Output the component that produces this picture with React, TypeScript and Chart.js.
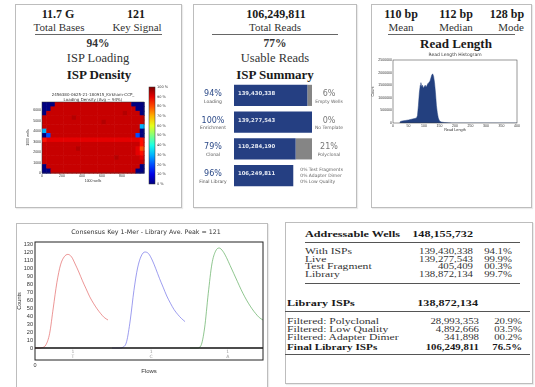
import React, { useEffect, useRef } from "react";
import { Chart, registerables } from "chart.js";
Chart.register(...registerables);

const SERIF = '"Liberation Serif", "Times New Roman", serif';
const SANS = '"DejaVu Sans", sans-serif';

// ---------- Heatmap (ISP density) ----------
const heatTitle = ["2456380-0625-21-180915_Kirkham-CCP_", "Loading Density (Avg ~ 94%)"];
const heatXMax = 1020;
const heatYMax = 6800;
const heatXTicks = [0, 200, 400, 600, 800];
const heatYTicks = [0, 1000, 2000, 3000, 4000, 5000, 6000];
const heatXTitle = "1000 wells";
const heatYTitle = "1000 wells";
const densityLevels: Record<string, number> = {
  "0": 0, "2": 20, "3": 30, "5": 50, "8": 80, "9": 86, q: 90, r: 93, R: 95,
};
const densityRows = [
  "000rrrrrrrrrrrrrrrrrr000",
  "00rrrrrrrrrrrrrrrrrrrr00",
  "0rrrrrrrrrrrrrrrrrrRrrr0",
  "rrrrrrrRrrrrrrrrrrrrrrrr",
  "rrrrrrrrrrrrrrRrrrrrrrrr",
  "rrrrrrrrrrrrrrrrrrrrrrr3",
  "3rrrrrrrrrrrrrrrrrrrrrr0",
  "02rrrrrrrrrrrrrrrrrrrr20",
  "9qqqqqqqqqqqqqqqqqqqqqq9",
  "rrrrrrrrrrrrrrrrrrrrrrr9",
  "rrrrrrrrRrrrrrrrrrrrrrq8",
  "rrrrrrrrrrrrrrrrrrrrrrq9",
  "rrrrrrrrrrrrrrrrrRrrrrrq",
  "rrrrrrrrrrrrrrrrrrrrrrrr",
  "0rrrrrrrrrrrrrrrrrrrrrr0",
  "00rrrrrrrrrrrrrrrrrrrr00",
];
const colorbarLabels = ["100 %", "90 %", "80 %", "70 %", "60 %", "50 %", "40 %", "30 %", "20 %", "10 %", "0 %"];

// ---------- ISP summary ----------
const ispCategories = ["Loading", "Enrichment", "Clonal", "Final Library"];
const ispPercents = ["94%", "100%", "79%", "96%"];
const ispCounts = ["139,430,338", "139,277,543", "110,284,190", "106,249,811"];
const ispBlue = [94, 100, 79, 76];
const ispGray = [6, 0, 21, 0];
const ispRightPct = ["6%", "0%", "21%", ""];
const ispRightCaption = ["Empty Wells", "No Template", "Polyclonal", ""];
const ispFinalNotes = ["0% Test Fragments", "0% Adapter Dimer", "0% Low Quality"];

// ---------- Read length histogram ----------
const readLengthBp = [22, 24, 30, 40, 50, 60, 70, 76, 79, 82, 85, 88, 90, 92, 95, 98, 101, 104, 107, 110, 113, 116, 119, 122, 125, 128, 131, 134, 137, 140, 143, 146, 150, 155, 165, 178, 190, 400];
const readLengthCount = [0, 60000, 80000, 100000, 120000, 150000, 180000, 200000, 300000, 700000, 1200000, 1500000, 1600000, 1450000, 1500000, 1380000, 1450000, 1500000, 1420000, 1500000, 1580000, 1620000, 1650000, 1780000, 1900000, 1950000, 1850000, 1600000, 1200000, 700000, 400000, 200000, 80000, 40000, 20000, 8000, 0, 0];
const histXTicks = [0, 50, 100, 150, 200, 250, 300, 350, 400];
const histYTicks = [0, 500000, 1000000, 1500000, 2000000, 2500000];

// ---------- Consensus key 1-mer ----------
const keyTitle = "Consensus Key 1-Mer - Library Ave. Peak = 121";
const keyRedCounts = [0, 0, 0.5, 4, 18, 50, 82, 104, 114, 117, 114, 105, 95, 84, 74, 64, 56, 49, 43, 38, 35];
const keyBlueCounts = [0, 0, 0, 1, 8, 35, 72, 100, 115, 120, 118, 110, 99, 87, 76, 65, 56, 48, 42, 37, 33];
const keyGreenCounts = [0, 0, 0, 3, 25, 68, 105, 121, 125, 121, 113, 103, 93, 83, 73, 64, 56, 49, 43, 38, 35];
const keyFlowStarts = [0, 1.055, 2.123];
const keyFlowLabelPos = [0.52, 1.59, 2.64];
const keyFlowLabels = [["1", "T"], ["1", "C"], ["1", "A"]];
const keyYTicks = [0, 10, 20, 30, 40, 50, 60, 70, 80, 90, 100, 110, 120, 130];

// ---------- Table ----------
const wellRows = [
  ["With ISPs", "139,430,338", "94.1%"],
  ["Live", "139,277,543", "99.9%"],
  ["Test Fragment", "405,409", "00.3%"],
  ["Library", "138,872,134", "99.7%"],
];
const filterRows = [
  ["Filtered: Polyclonal", "28,993,353", "20.9%"],
  ["Filtered: Low Quality", "4,892,666", "03.5%"],
  ["Filtered: Adapter Dimer", "341,898", "00.2%"],
  ["Final Library ISPs", "106,249,811", "76.5%"],
];

// ---------- helpers ----------
function clamp01(v: number) { return Math.max(0, Math.min(1, v)); }
function jet(v: number) {
  const r = clamp01(Math.min(4 * v - 1.5, -4 * v + 4.5));
  const g = clamp01(Math.min(4 * v - 0.5, -4 * v + 3.5));
  const b = clamp01(Math.min(4 * v + 0.5, -4 * v + 2.5));
  return `rgb(${Math.round(r * 255)},${Math.round(g * 255)},${Math.round(b * 255)})`;
}

function T(props: any) {
  const { x, y, children, size = 11, bold = false, align = "center", color = "#1a1a1a", font = SERIF, ls = 0, sx = 1 } = props;
  const tx = align === "center" ? "-50%" : align === "right" ? "-100%" : "0";
  const origin = align === "center" ? "center center" : align === "right" ? "right center" : "left center";
  return (
    <div style={{ position: "absolute", left: x, top: y, transform: `translate(${tx},-50%) scaleX(${sx})`, transformOrigin: origin, fontSize: size, fontWeight: bold ? 700 : 400, lineHeight: 1, whiteSpace: "nowrap", fontFamily: font, color, letterSpacing: ls }}>
      {children}
    </div>
  );
}
function Rule({ x1, x2, y, h = 1, c = "#555" }: any) {
  return <div style={{ position: "absolute", left: x1, top: y, width: x2 - x1, height: h, background: c }} />;
}
function Box({ x1, y1, x2, y2 }: any) {
  return <div style={{ position: "absolute", left: x1, top: y1, width: x2 - x1, height: y2 - y1, border: "1px solid #bdbdbd", boxSizing: "border-box", boxShadow: "1px 1px 1px rgba(0,0,0,0.08)" }} />;
}

function ChartCanvas({ left, top, width, height, build }: any) {
  const ref = useRef<HTMLCanvasElement>(null);
  useEffect(() => {
    const chart = new Chart(ref.current as HTMLCanvasElement, build());
    return () => chart.destroy();
  }, []);
  return <canvas ref={ref} width={width} height={height} style={{ position: "absolute", left, top, width, height, display: "block" }} />;
}

const baseOpts = {
  responsive: false,
  animation: false,
  events: [],
  plugins: { legend: { display: false }, tooltip: { enabled: false }, title: { display: false } },
};

function borderRect(ctx: any, a: any, color = "#222", w = 0.6) {
  ctx.save();
  ctx.strokeStyle = color;
  ctx.lineWidth = w;
  ctx.strokeRect(a.left, a.top, a.right - a.left, a.bottom - a.top);
  ctx.restore();
}

// ---------- chart builders ----------
function buildHeat() {
  const plugin = {
    id: "heat",
    beforeDatasetsDraw(chart: any) {
      const { ctx } = chart;
      const x = chart.scales.x, y = chart.scales.y;
      const rows = densityRows.length, cols = densityRows[0].length;
      const cw = heatXMax / cols, ch = heatYMax / rows;
      densityRows.forEach((row, r) => {
        for (let c = 0; c < cols; c++) {
          const v = densityLevels[row[c]];
          const x0 = x.getPixelForValue(c * cw), x1 = x.getPixelForValue((c + 1) * cw);
          const y0 = y.getPixelForValue(heatYMax - r * ch), y1 = y.getPixelForValue(heatYMax - (r + 1) * ch);
          ctx.fillStyle = jet(v / 100);
          ctx.fillRect(x0, y0, x1 - x0 + 0.6, y1 - y0 + 0.6);
        }
      });
    },
    afterDraw(chart: any) {
      const { ctx, chartArea: a } = chart;
      borderRect(ctx, a, "#333", 0.5);
      const cx0 = 131, cx1 = 137, cy0 = 3, cy1 = 100;
      const g = ctx.createLinearGradient(0, cy1, 0, cy0);
      for (let i = 0; i <= 10; i++) g.addColorStop(i / 10, jet(i / 10));
      ctx.fillStyle = g;
      ctx.fillRect(cx0, cy0, cx1 - cx0, cy1 - cy0);
      ctx.strokeStyle = "#333";
      ctx.lineWidth = 0.5;
      ctx.strokeRect(cx0, cy0, cx1 - cx0, cy1 - cy0);
      ctx.fillStyle = "#333";
      ctx.font = `3.5px ${SANS}`;
      ctx.textAlign = "left";
      ctx.textBaseline = "middle";
      colorbarLabels.forEach((l, i) => {
        ctx.fillText(l, cx1 + 2, cy0 + (i * (cy1 - cy0)) / (colorbarLabels.length - 1));
      });
      ctx.textAlign = "center";
      ctx.font = `4px ${SANS}`;
      const mid = (a.left + a.right) / 2;
      ctx.fillText(heatTitle[0], mid, 11);
      ctx.fillText(heatTitle[1], mid, 15.5);
    },
  };
  return {
    type: "scatter",
    data: { datasets: [{ data: [] }] },
    options: {
      ...baseOpts,
      layout: { padding: { top: 18, right: 34, left: 0, bottom: 0 } },
      scales: {
        x: {
          type: "linear", min: 0, max: heatXMax,
          afterBuildTicks: (s: any) => { s.ticks = heatXTicks.map((v) => ({ value: v })); },
          afterFit: (s: any) => { s.height = 21; },
          grid: { display: false, drawTicks: false }, border: { display: false },
          ticks: { font: { size: 3.5 }, color: "#333", padding: 1, maxRotation: 0, autoSkip: false, callback: (v: any) => String(v) },
          title: { display: true, text: heatXTitle, font: { size: 3.5 }, color: "#333", padding: { top: 0, bottom: 11 } },
        },
        y: {
          type: "linear", min: 0, max: heatYMax,
          afterBuildTicks: (s: any) => { s.ticks = heatYTicks.map((v) => ({ value: v })); },
          afterFit: (s: any) => { s.width = 24; },
          grid: { display: false, drawTicks: false }, border: { display: false },
          ticks: { font: { size: 3.5 }, color: "#333", padding: 1, autoSkip: false, callback: (v: any) => String(v) },
          title: { display: true, text: heatYTitle, font: { size: 3.5 }, color: "#333", padding: { top: 8, bottom: 0 } },
        },
      },
    },
    plugins: [plugin],
  };
}

function buildIsp() {
  const plugin = {
    id: "isp",
    afterDatasetsDraw(chart: any) {
      const { ctx, chartArea: a } = chart;
      const meta0 = chart.getDatasetMeta(0);
      meta0.data.forEach((bar: any, i: number) => {
        const yc = bar.y;
        ctx.save();
        ctx.textBaseline = "middle";
        ctx.fillStyle = "#e8ecf5";
        ctx.font = `bold 5.3px ${SANS}`;
        ctx.textAlign = "left";
        ctx.fillText(ispCounts[i], bar.base + 4, yc - 2);
        ctx.textAlign = "center";
        ctx.fillStyle = "#2c4a88";
        ctx.font = `8px ${SANS}`;
        ctx.fillText(ispPercents[i], a.left - 21, yc - 1.5);
        ctx.fillStyle = "#555";
        ctx.font = `4.5px ${SANS}`;
        ctx.fillText(ispCategories[i], a.left - 21, yc + 6);
        if (ispRightPct[i]) {
          ctx.fillStyle = "#777";
          ctx.font = `8px ${SANS}`;
          ctx.fillText(ispRightPct[i], a.right + 17, yc - 1.5);
          ctx.fillStyle = "#666";
          ctx.font = `4.5px ${SANS}`;
          ctx.fillText(ispRightCaption[i], a.right + 17, yc + 6);
        } else {
          ctx.textAlign = "left";
          ctx.fillStyle = "#666";
          ctx.font = `4.5px ${SANS}`;
          ispFinalNotes.forEach((n, k) => ctx.fillText(n, bar.x + 7, yc - 6 + k * 6));
        }
        ctx.restore();
      });
    },
  };
  return {
    type: "bar",
    data: {
      labels: ispCategories,
      datasets: [
        { data: ispBlue, backgroundColor: "#253f82", barPercentage: 0.79, categoryPercentage: 1 },
        { data: ispGray, backgroundColor: "#858585", barPercentage: 0.79, categoryPercentage: 1 },
      ],
    },
    options: {
      ...baseOpts,
      indexAxis: "y",
      layout: { padding: { top: 0, right: 45, left: 41, bottom: 1 } },
      scales: {
        x: { display: false, stacked: true, min: 0, max: 100 },
        y: { display: false, stacked: true },
      },
    },
    plugins: [plugin],
  };
}

function buildHist() {
  const plugin = {
    id: "hist",
    afterDraw(chart: any) {
      const { ctx, chartArea: a } = chart;
      borderRect(ctx, a, "#333", 0.5);
      ctx.save();
      ctx.fillStyle = "#333";
      ctx.font = `4.5px ${SANS}`;
      ctx.textAlign = "center";
      ctx.textBaseline = "middle";
      ctx.fillText("Read Length Histogram", (a.left + a.right) / 2, 7);
      ctx.restore();
    },
  };
  return {
    type: "line",
    data: {
      datasets: [{
        data: readLengthBp.map((x, i) => ({ x, y: readLengthCount[i] })),
        borderColor: "#23407f", backgroundColor: "#23407f", fill: "origin",
        borderWidth: 0.5, pointRadius: 0, tension: 0,
      }],
    },
    options: {
      ...baseOpts,
      layout: { padding: { top: 12, right: 15, left: 0, bottom: 0 } },
      scales: {
        x: {
          type: "linear", min: 0, max: 400,
          afterBuildTicks: (s: any) => { s.ticks = histXTicks.map((v) => ({ value: v })); },
          afterFit: (s: any) => { s.height = 15; },
          grid: { display: false, drawTicks: false }, border: { display: false },
          ticks: { font: { size: 3.5 }, color: "#333", padding: 1, maxRotation: 0, autoSkip: false },
          title: { display: true, text: "Read Length", font: { size: 3.8 }, color: "#333", padding: { top: 0, bottom: 6 } },
        },
        y: {
          type: "linear", min: 0, max: 2500000,
          afterBuildTicks: (s: any) => { s.ticks = histYTicks.map((v) => ({ value: v })); },
          afterFit: (s: any) => { s.width = 22; },
          grid: { display: false, drawTicks: false }, border: { display: false },
          ticks: { font: { size: 3.5 }, color: "#333", padding: 1, autoSkip: false, callback: (v: any) => String(v) },
          title: { display: true, text: "Count", font: { size: 3.8 }, color: "#333", padding: { top: 0, bottom: 0 } },
        },
      },
    },
    plugins: [plugin],
  };
}

function buildKey() {
  const series = [keyRedCounts, keyBlueCounts, keyGreenCounts];
  const colors = ["rgba(225,90,90,0.8)", "rgba(100,100,230,0.8)", "rgba(80,165,80,0.8)"];
  const plugin = {
    id: "key",
    afterDraw(chart: any) {
      const { ctx, chartArea: a } = chart;
      const xs = chart.scales.x, ys = chart.scales.y;
      ctx.save();
      ctx.strokeStyle = "#111";
      ctx.lineWidth = 1.4;
      const y0 = ys.getPixelForValue(0);
      ctx.beginPath(); ctx.moveTo(a.left, y0); ctx.lineTo(a.right, y0); ctx.stroke();
      ctx.restore();
      borderRect(ctx, a, "#222", 1);
      ctx.save();
      ctx.fillStyle = "#9a9a9a";
      ctx.font = `4.5px ${SANS}`;
      ctx.textAlign = "center";
      ctx.textBaseline = "middle";
      keyFlowLabelPos.forEach((p, i) => {
        const px = xs.getPixelForValue(p);
        ctx.fillText(keyFlowLabels[i][0], px, ys.getPixelForValue(-5));
        ctx.fillText(keyFlowLabels[i][1], px, ys.getPixelForValue(-11));
      });
      ctx.fillStyle = "#333";
      ctx.font = `6.3px ${SANS}`;
      ctx.fillText(keyTitle, (a.left + a.right) / 2 - 3, 9.5);
      ctx.restore();
    },
  };
  return {
    type: "line",
    data: {
      datasets: series.map((s, k) => ({
        data: s.map((y, i) => ({ x: keyFlowStarts[k] + i / (s.length - 1), y })),
        borderColor: colors[k], borderWidth: 0.8, pointRadius: 0,
        cubicInterpolationMode: "monotone", fill: false,
      })),
    },
    options: {
      ...baseOpts,
      layout: { padding: { top: 19, right: 5, left: 0, bottom: 0 } },
      scales: {
        x: {
          type: "linear", min: 0, max: 3.123,
          afterBuildTicks: (s: any) => { s.ticks = [{ value: 0 }]; },
          afterFit: (s: any) => { s.height = 27; },
          grid: { display: false, drawTicks: false }, border: { display: false },
          ticks: { font: { size: 5.5 }, color: "#333", padding: 2 },
          title: { display: true, text: "Flows", font: { size: 6 }, color: "#333", padding: { top: 0, bottom: 12 } },
        },
        y: {
          type: "linear", min: -15, max: 132.5,
          afterBuildTicks: (s: any) => { s.ticks = keyYTicks.map((v) => ({ value: v })); },
          afterFit: (s: any) => { s.width = 19; },
          grid: { display: false, drawTicks: false }, border: { display: false },
          ticks: { font: { size: 5.6 }, color: "#333", padding: 2, autoSkip: false },
          title: { display: true, text: "Counts", font: { size: 5.5 }, color: "#333", padding: { top: 0, bottom: 0 } },
        },
      },
    },
    plugins: [plugin],
  };
}

const TS = 8.3; // table font size
const LS = 1.4; // label horizontal stretch in table
const NS = 1.3; // number stretch in table
const BS = 1.35; // bold header stretch

export default function App() {
  return (
    <div style={{ position: "absolute", left: 0, top: 0, width: 535, height: 387, overflow: "hidden", background: "#fff" }}>
      {/* Panel 1 */}
      <Box x1={15} y1={4} x2={182} y2={208} />
      <T x={58} y={14} size={12} bold>11.7 G</T>
      <T x={136} y={14} size={12} bold>121</T>
      <T x={59} y={27} size={11} color="#333">Total Bases</T>
      <T x={137} y={27} size={11} color="#333">Key Signal</T>
      <Rule x1={35} x2={162} y={33.5} h={1.2} c="#666" />
      <T x={98} y={44} size={11.5} bold color="#333">94%</T>
      <T x={98} y={58} size={12.5} color="#333">ISP Loading</T>
      <T x={99} y={74} size={13} bold>ISP Density</T>
      <ChartCanvas left={18} top={84} width={160} height={110} build={buildHeat} />

      {/* Panel 2 */}
      <Box x1={193} y1={4} x2={357} y2={208} />
      <T x={276} y={14} size={12} bold>106,249,811</T>
      <T x={275} y={27} size={11} color="#333">Total Reads</T>
      <Rule x1={212} x2={338} y={33.5} h={1.2} c="#666" />
      <T x={275} y={44} size={11.5} bold color="#333">77%</T>
      <T x={275} y={58} size={12.5} color="#333">Usable Reads</T>
      <T x={275} y={74} size={13} bold>ISP Summary</T>
      <ChartCanvas left={193} top={82} width={164} height={108} build={buildIsp} />

      {/* Panel 3 */}
      <Box x1={371} y1={4} x2={532} y2={208} />
      <T x={401} y={14} size={12} bold>110 bp</T>
      <T x={456} y={14} size={12} bold>112 bp</T>
      <T x={507} y={14} size={12} bold>128 bp</T>
      <T x={401} y={27} size={11} color="#333">Mean</T>
      <T x={456} y={27} size={11} color="#333">Median</T>
      <T x={511} y={27} size={11} color="#333">Mode</T>
      <Rule x1={388} x2={515} y={33.5} h={1.2} c="#666" />
      <T x={456} y={43} size={13} bold>Read Length</T>
      <ChartCanvas left={371} top={48} width={161} height={90} build={buildHist} />

      {/* Bottom left */}
      <Box x1={16} y1={223} x2={268} y2={400} />
      <ChartCanvas left={16} top={223} width={252} height={164} build={buildKey} />

      {/* Bottom right table */}
      <Box x1={285} y1={222} x2={533} y2={384} />
      <T x={305} y={234} size={9} bold align="left" sx={BS}>Addressable Wells</T>
      <T x={473} y={234} size={9} bold align="right" sx={BS}>148,155,732</T>
      <Rule x1={305} x2={520} y={242} />
      {wellRows.map((r, i) => (
        <React.Fragment key={"w" + i}>
          <T x={305} y={252 + i * 7.7} size={TS} align="left" sx={LS} color="#333">{r[0]}</T>
          <T x={473} y={252 + i * 7.7} size={TS} align="right" sx={NS} color="#333">{r[1]}</T>
          <T x={512} y={252 + i * 7.7} size={TS} align="right" sx={NS} color="#333">{r[2]}</T>
        </React.Fragment>
      ))}
      <Rule x1={305} x2={520} y={283} />
      <T x={287} y={303} size={9} bold align="left" sx={BS}>Library ISPs</T>
      <T x={478} y={303} size={9} bold align="right" sx={BS}>138,872,134</T>
      <Rule x1={285} x2={530} y={311} />
      {filterRows.map((r, i) => {
        const y = [322, 330, 338.3, 347.7][i];
        const b = i === filterRows.length - 1;
        return (
          <React.Fragment key={"f" + i}>
            <T x={287} y={y} size={TS} bold={b} align="left" sx={b ? BS : LS} color={b ? "#1a1a1a" : "#333"}>{r[0]}</T>
            <T x={479} y={y} size={TS} bold={b} align="right" sx={NS} color={b ? "#1a1a1a" : "#333"}>{r[1]}</T>
            <T x={522} y={y} size={TS} bold={b} align="right" sx={NS} color={b ? "#1a1a1a" : "#333"}>{r[2]}</T>
          </React.Fragment>
        );
      })}
      <Rule x1={285} x2={530} y={354} />
    </div>
  );
}
